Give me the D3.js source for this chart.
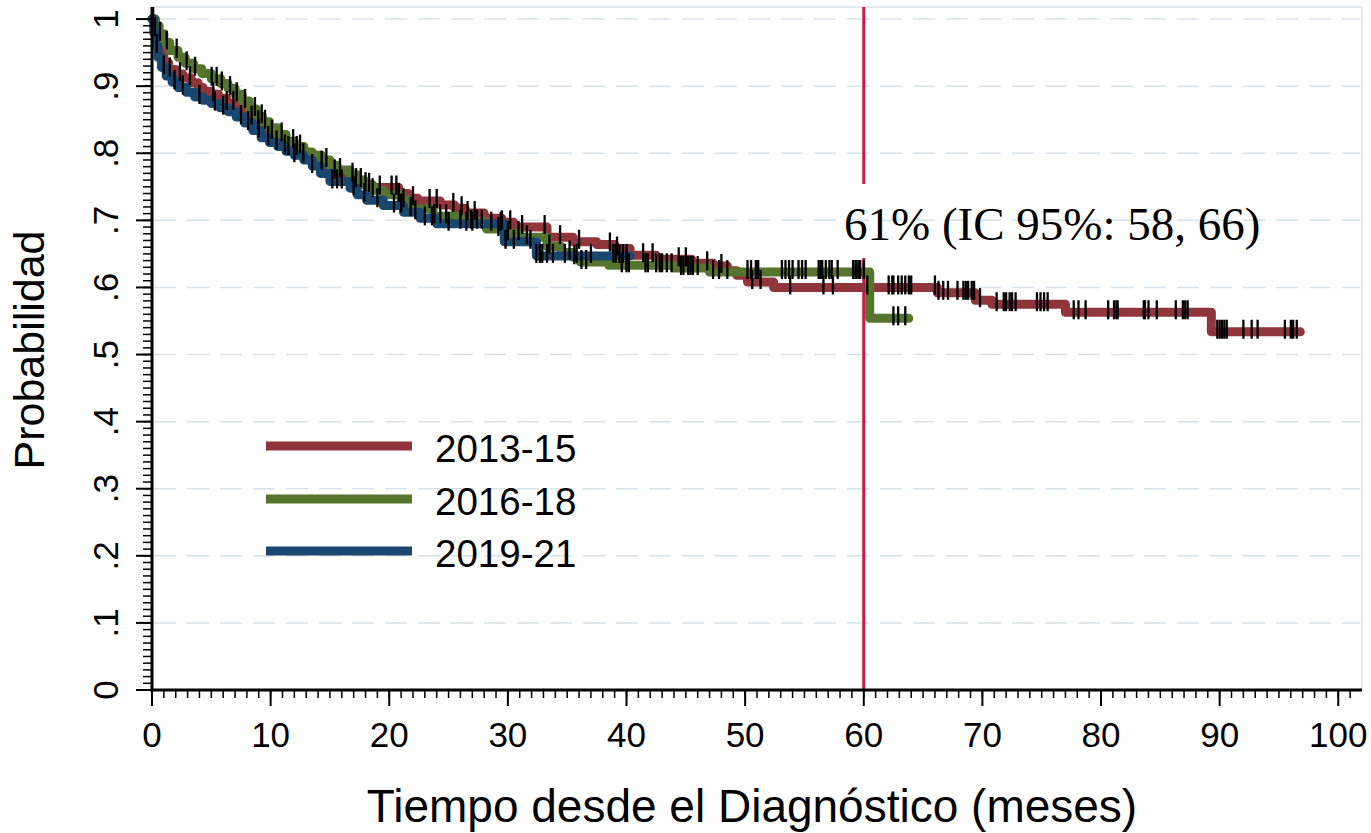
<!DOCTYPE html>
<html>
<head>
<meta charset="utf-8">
<script src="https://cdn.jsdelivr.net/npm/d3@7"></script>
<style>
  html, body { margin: 0; padding: 0; background: #ffffff; }
  svg { display: block; }
  text { font-family: "Liberation Sans", Arial, sans-serif; fill: #000; }
</style>
</head>
<body>
<svg id="chart" width="1371" height="833"></svg>
<script>
// ---------------- DATA ----------------
const seriesNames = ["2013-15", "2016-18", "2019-21"];

const redTimes = [0,0.2,0.4,0.7,1.0,1.4,2.0,2.6,3.3,3.9,4.3,5.0,5.6,6.3,7.0,7.8,8.3,8.8,9.3,9.8,10.3,10.9,11.5,12.3,13.0,13.8,14.6,15.3,16.0,16.8,17.6,18.4,20.8,21.6,22.4,24.3,25.5,26.4,28.0,29.5,30.5,33.3,35.5,37.5,39.0,40.3,42.5,45.5,47.3,48.5,49.3,50.2,52.4,66.2,69.4,70.8,77.0,89.3,96.8];
const redSurv  = [1,0.985,0.965,0.948,0.935,0.925,0.918,0.912,0.905,0.898,0.892,0.888,0.882,0.875,0.869,0.862,0.853,0.846,0.840,0.832,0.824,0.815,0.808,0.800,0.792,0.786,0.780,0.773,0.766,0.760,0.754,0.749,0.740,0.733,0.729,0.723,0.718,0.711,0.703,0.697,0.690,0.675,0.668,0.664,0.658,0.648,0.642,0.636,0.632,0.625,0.618,0.608,0.600,0.592,0.581,0.575,0.563,0.534,0.534];

const greenTimes = [0,0.3,0.6,1.0,1.5,2.2,2.8,3.5,4.2,5.0,5.8,6.4,7.0,7.6,8.2,8.8,9.3,9.9,10.6,11.3,12.0,12.8,13.5,14.3,15.0,15.6,16.7,17.3,17.9,18.6,19.5,21.0,21.7,23.7,26.0,28.2,29.9,31.0,33.3,34.5,35.5,36.1,38.5,44.0,47.0,60.5,63.8];
const greenSurv  = [1,0.99,0.978,0.965,0.953,0.943,0.934,0.926,0.919,0.911,0.904,0.897,0.888,0.878,0.866,0.855,0.847,0.838,0.828,0.818,0.810,0.802,0.797,0.790,0.782,0.775,0.768,0.760,0.753,0.745,0.738,0.730,0.717,0.706,0.698,0.687,0.681,0.675,0.661,0.652,0.645,0.638,0.633,0.629,0.623,0.554,0.554];

const blueTimes = [0,0.15,0.3,0.5,0.8,1.2,1.7,2.2,2.9,3.6,4.3,5.0,5.7,6.4,7.1,7.8,8.5,9.2,9.9,10.6,11.3,12.0,12.8,13.5,14.2,15.0,16.7,17.3,18.1,19.5,21.2,22.6,24.0,29.7,32.4,40.3];
const blueSurv  = [1,0.98,0.96,0.943,0.928,0.915,0.906,0.898,0.891,0.884,0.879,0.874,0.868,0.862,0.854,0.845,0.834,0.823,0.816,0.810,0.803,0.797,0.790,0.781,0.770,0.758,0.748,0.738,0.730,0.722,0.712,0.703,0.695,0.668,0.647,0.647];

const redCensor = [0.25,1.5,2.36,3.2,5.17,6.3,6.86,8.4,8.96,10.1,11.5,12.2,14.3,15.4,17.2,18.0,19.2,20.2,20.6,22.0,23.4,24.0,25.4,26.1,26.6,27.2,29.5,30.2,31.2,33.1,34.4,36.0,38.6,39.2,41.4,42.2,44.4,45.0,46.8,48.0,50.6,51.3,53.8,56.6,57.4,60.3,62.1,62.4,62.5,62.9,63.2,63.5,63.8,64.0,66.0,66.3,66.7,67.1,67.9,68.4,68.6,68.8,69.1,69.3,69.8,71.2,71.8,72.0,72.3,72.5,72.8,74.6,74.9,75.2,75.5,77.7,78.1,78.7,80.6,81.1,81.3,81.4,83.6,83.7,84.0,84.7,86.3,86.9,87.1,87.3,89.8,90.0,90.2,90.4,90.6,92.0,92.7,93.2,95.5,96.0,96.2,96.5];
const greenCensor = [0.1,0.67,1.24,2.08,2.92,3.63,5.03,5.45,5.88,6.58,7.14,7.84,8.68,9.25,9.53,10.93,11.9,12.48,14.7,15.85,16.9,17.6,18.3,18.6,20.8,21.2,21.8,23.8,24.3,24.8,26.0,26.9,27.4,27.8,29.2,30.0,30.9,31.6,33.5,35.2,35.6,36.2,36.6,39.6,40.0,40.2,41.6,41.8,42.5,42.8,43.0,43.4,43.8,44.6,44.8,45.2,45.4,45.6,46.0,47.3,47.8,48.5,50.2,50.5,50.9,51.1,53.1,53.4,53.7,54.0,54.5,54.8,55.1,56.2,56.4,56.5,56.8,57.1,57.3,57.8,59.1,59.3,59.4,59.6,59.7,60.0,62.5,62.9,63.5];
const blueCensor = [0.4,1.0,1.9,2.6,4.0,5.3,6.0,7.5,8.1,9.0,9.8,10.5,11.2,12.0,12.76,13.5,15.2,15.6,16.0,17.0,17.9,19.0,20.4,21.0,22.2,23.0,23.6,25.0,26.5,27.0,28.6,29.4,29.8,30.5,31.9,32.4,32.7,32.9,33.3,33.8,34.8,35.8,37.0,38.9,39.1,39.4,39.7,40.0];

const xTickValues = [0,10,20,30,40,50,60,70,80,90,100];
const yTickValues = [0,0.1,0.2,0.3,0.4,0.5,0.6,0.7,0.8,0.9,1];
const yTickLabels = ["0",".1",".2",".3",".4",".5",".6",".7",".8",".9","1"];
const refLineTime = 60;
const annotationText = "61% (IC 95%: 58, 66)";
const xTitle = "Tiempo desde el Diagnóstico (meses)";
const yTitle = "Probabilidad";

// ---------------- STYLES ----------------
const colors = ["#90353b", "#55752f", "#1a476f"];
const gridColor = "#d6e2e9";

const svg = d3.select("#chart");
svg.append("rect").attr("width", 1371).attr("height", 833).attr("fill", "#fff");

const x = d3.scaleLinear().domain([0, 102]).range([152, 1362]);
const y = d3.scaleLinear().domain([0, 1.018]).range([690, 7]);

// plot region outline (top & right)
svg.append("path")
  .attr("d", `M${x(0)},${y(1.018)}H${x(102)}V${y(0)}`)
  .attr("fill", "none").attr("stroke", "#e1eaee").attr("stroke-width", 2);

// gridlines
svg.append("g").selectAll("line").data(yTickValues.filter(d => d > 0)).join("line")
  .attr("x1", x(0) + 2).attr("x2", x(102) - 2)
  .attr("y1", d => y(d)).attr("y2", d => y(d))
  .attr("stroke", gridColor).attr("stroke-width", 1.5)
  .attr("stroke-dasharray", "22,11");

// reference line at 60 months (gap behind annotation)
const refG = svg.append("g");
refG.append("line").attr("x1", x(refLineTime)).attr("x2", x(refLineTime))
  .attr("y1", y(1.018)).attr("y2", 184)
  .attr("stroke", "#cc1840").attr("stroke-width", 3);
refG.append("line").attr("x1", x(refLineTime)).attr("x2", x(refLineTime))
  .attr("y1", 258).attr("y2", y(0))
  .attr("stroke", "#cc1840").attr("stroke-width", 3);

// survival curves
const series = [
  { name: seriesNames[0], times: redTimes, surv: redSurv, censor: redCensor, color: colors[0] },
  { name: seriesNames[1], times: greenTimes, surv: greenSurv, censor: greenCensor, color: colors[1] },
  { name: seriesNames[2], times: blueTimes, surv: blueSurv, censor: blueCensor, color: colors[2] }
];

const line = d3.line().x(d => x(d[0])).y(d => y(d[1])).curve(d3.curveStepAfter);

series.forEach(s => {
  const pts = s.times.map((t, i) => [t, s.surv[i]]);
  svg.append("path").datum(pts)
    .attr("d", line)
    .attr("fill", "none")
    .attr("stroke", s.color)
    .attr("stroke-width", 9)
    .attr("stroke-linejoin", "round")
    .attr("stroke-linecap", "round");
});

// censoring ticks
function survAt(s, t) {
  const i = Math.max(0, d3.bisectRight(s.times, t) - 1);
  return s.surv[i];
}
series.forEach(s => {
  svg.append("g").selectAll("line").data(s.censor).join("line")
    .attr("x1", d => x(d)).attr("x2", d => x(d))
    .attr("y1", d => y(survAt(s, d)) - 12)
    .attr("y2", d => y(survAt(s, d)) + 7)
    .attr("stroke", "#000").attr("stroke-width", 2.3);
});

// annotation
svg.append("text")
  .attr("x", 844).attr("y", 240)
  .style("font-family", "'Liberation Serif', 'Times New Roman', serif")
  .style("font-size", "47px")
  .text(annotationText);

// axes
const axG = svg.append("g");
axG.append("line").attr("x1", x(0)).attr("x2", x(0)).attr("y1", y(0) + 1.5).attr("y2", y(1.018))
  .attr("stroke", "#000").attr("stroke-width", 3);
axG.append("line").attr("x1", x(0) - 1.5).attr("x2", x(102)).attr("y1", y(0)).attr("y2", y(0))
  .attr("stroke", "#000").attr("stroke-width", 3);

// y minor ticks
const yMinor = d3.range(0, 101).map(i => i / 100);
axG.append("g").selectAll("line").data(yMinor).join("line")
  .attr("x1", x(0) - 9).attr("x2", x(0))
  .attr("y1", d => y(d)).attr("y2", d => y(d))
  .attr("stroke", "#000").attr("stroke-width", 1.5);
axG.append("g").selectAll("line").data(yTickValues).join("line")
  .attr("x1", x(0) - 16).attr("x2", x(0))
  .attr("y1", d => y(d)).attr("y2", d => y(d))
  .attr("stroke", "#000").attr("stroke-width", 2);

// x minor ticks
const xMinor = d3.range(0, 102);
axG.append("g").selectAll("line").data(xMinor).join("line")
  .attr("x1", d => x(d)).attr("x2", d => x(d))
  .attr("y1", y(0)).attr("y2", y(0) + 8)
  .attr("stroke", "#000").attr("stroke-width", 1.5);
axG.append("g").selectAll("line").data(xTickValues).join("line")
  .attr("x1", d => x(d)).attr("x2", d => x(d))
  .attr("y1", y(0)).attr("y2", y(0) + 16)
  .attr("stroke", "#000").attr("stroke-width", 2);

// tick labels
axG.append("g").selectAll("text").data(xTickValues).join("text")
  .attr("x", d => x(d)).attr("y", 747)
  .attr("text-anchor", "middle")
  .style("font-size", "35px")
  .text(d => String(d));

axG.append("g").selectAll("text").data(yTickValues).join("text")
  .attr("transform", (d) => `translate(118,${y(d)}) rotate(-90)`)
  .attr("text-anchor", "middle")
  .style("font-size", "35px")
  .text((d, i) => yTickLabels[i]);

// axis titles
svg.append("text")
  .attr("x", 752).attr("y", 822)
  .attr("text-anchor", "middle")
  .style("font-size", "46px")
  .text(xTitle);

svg.append("text")
  .attr("transform", "translate(44,350) rotate(-90)")
  .attr("text-anchor", "middle")
  .style("font-size", "43px")
  .text(yTitle);

// legend
const legendY = [446, 499, 551];
const lg = svg.append("g");
series.forEach((s, i) => {
  lg.append("line")
    .attr("x1", 266).attr("x2", 412)
    .attr("y1", legendY[i]).attr("y2", legendY[i])
    .attr("stroke", s.color).attr("stroke-width", 9);
  lg.append("text")
    .attr("x", 435).attr("y", legendY[i] + 16)
    .style("font-size", "38.5px")
    .text(s.name);
});
</script>
</body>
</html>
